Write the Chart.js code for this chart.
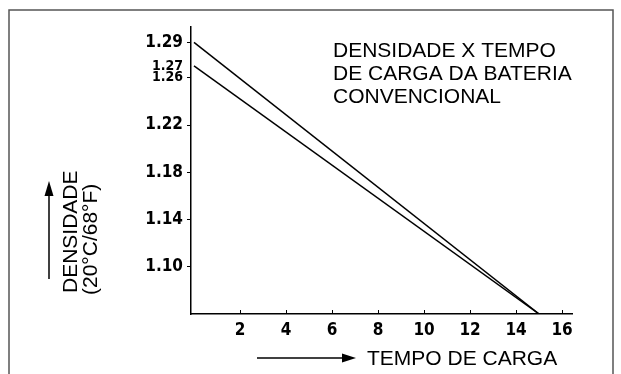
<!DOCTYPE html>
<html>
<head>
<meta charset="utf-8">
<script src="https://cdn.jsdelivr.net/npm/chart.js@4"></script>
<style>
  html, body { margin: 0; padding: 0; background: #fff; }
  #wrap { width: 621px; height: 374px; }
</style>
</head>
<body>
<div id="wrap"><canvas id="densityChart" width="621" height="374"></canvas></div>
<script>
// Charge time (hours) and specific gravity
const chargeHours = [0, 15];
const densityUpper = [1.29, 1.06];
const densityLower = [1.27, 1.06];
const yTickValues = [1.10, 1.14, 1.18, 1.22, 1.26, 1.27, 1.29];
const xTickValues = [2, 4, 6, 8, 10, 12, 14, 16];
const smallTicks = [1.26, 1.27];

const titleLines = ['DENSIDADE X TEMPO', 'DE CARGA DA BATERIA', 'CONVENCIONAL'];
const yTitle = ['DENSIDADE', '(20°C/68°F)'];
const xTitle = 'TEMPO DE CARGA';

const tickFont = "'DejaVu Sans Condensed', 'DejaVu Sans', sans-serif";
const textFont = "'Liberation Sans', Arial, sans-serif";

function toPoints(xs, ys) {
    return xs.map((x, i) => ({ x: x, y: ys[i] }));
}

const decorPlugin = {
    id: 'decor',
    afterDraw(chart) {
        const ctx = chart.ctx;
        const xs = chart.scales.x;
        ctx.save();

        // outer frame
        ctx.strokeStyle = '#555';
        ctx.lineWidth = 1.5;
        ctx.beginPath();
        ctx.moveTo(9, 380);
        ctx.lineTo(9, 10);
        ctx.lineTo(613, 10);
        ctx.lineTo(613, 380);
        ctx.stroke();

        // x tick marks pointing up into the plot
        ctx.strokeStyle = '#000';
        ctx.lineWidth = 1;
        const axisY = chart.chartArea.bottom;
        xTickValues.forEach(v => {
            const px = Math.round(xs.getPixelForValue(v)) + 0.5;
            ctx.beginPath();
            ctx.moveTo(px, axisY);
            ctx.lineTo(px, axisY - 4);
            ctx.stroke();
        });

        // chart title
        ctx.fillStyle = '#000';
        ctx.font = '21px ' + textFont;
        ctx.textAlign = 'left';
        ctx.textBaseline = 'alphabetic';
        titleLines.forEach((line, i) => {
            ctx.fillText(line, 333, 57 + i * 23);
        });

        // x axis title with arrow
        ctx.fillText(xTitle, 367, 365);
        ctx.lineWidth = 1.5;
        ctx.beginPath();
        ctx.moveTo(257, 358);
        ctx.lineTo(345, 358);
        ctx.stroke();
        ctx.beginPath();
        ctx.moveTo(356, 358);
        ctx.lineTo(342, 353.5);
        ctx.lineTo(342, 362.5);
        ctx.closePath();
        ctx.fill();

        // y axis title with arrow
        ctx.beginPath();
        ctx.moveTo(49, 279);
        ctx.lineTo(49, 192);
        ctx.stroke();
        ctx.beginPath();
        ctx.moveTo(49, 181);
        ctx.lineTo(44.5, 196);
        ctx.lineTo(53.5, 196);
        ctx.closePath();
        ctx.fill();

        ctx.save();
        ctx.translate(77, 293);
        ctx.rotate(-Math.PI / 2);
        ctx.fillText(yTitle[0], 0, 0);
        ctx.fillText(yTitle[1], -2, 20);
        ctx.restore();

        ctx.restore();
    }
};

const chart = new Chart(document.getElementById('densityChart'), {
    type: 'line',
    data: {
        datasets: [
            {
                data: toPoints(chargeHours, densityUpper),
                borderColor: '#000',
                borderWidth: 1.5,
                pointRadius: 0
            },
            {
                data: toPoints(chargeHours, densityLower),
                borderColor: '#000',
                borderWidth: 1.5,
                pointRadius: 0
            }
        ]
    },
    options: {
        responsive: false,
        animation: false,
        layout: { padding: { left: 0, top: 27, right: 49, bottom: 0 } },
        plugins: {
            legend: { display: false },
            tooltip: { enabled: false }
        },
        scales: {
            x: {
                type: 'linear',
                min: -0.13,
                max: 16.43,
                afterBuildTicks: scale => {
                    scale.ticks = xTickValues.map(v => ({ value: v }));
                },
                afterFit: scale => { scale.height = 60; },
                grid: { drawOnChartArea: false, drawTicks: false },
                border: { color: '#000', width: 1.5 },
                ticks: {
                    color: '#000',
                    padding: 6,
                    maxRotation: 0,
                    font: { family: tickFont, size: 17, weight: 'bold' }
                }
            },
            y: {
                type: 'linear',
                min: 1.06,
                max: 1.303,
                afterBuildTicks: scale => {
                    scale.ticks = yTickValues.map(v => ({ value: v }));
                },
                afterFit: scale => { scale.width = 191; },
                grid: {
                    drawOnChartArea: false,
                    tickLength: 4,
                    tickColor: c => (c.tick && c.tick.value === 1.27) ? 'rgba(0,0,0,0)' : '#000'
                },
                border: { color: '#000', width: 1.5 },
                ticks: {
                    color: '#000',
                    padding: 4,
                    callback: v => v.toFixed(2),
                    font: c => ({
                        family: tickFont,
                        size: (c.tick && smallTicks.includes(c.tick.value)) ? 14 : 17,
                        weight: 'bold'
                    })
                }
            }
        }
    },
    plugins: [decorPlugin]
});
</script>
</body>
</html>
